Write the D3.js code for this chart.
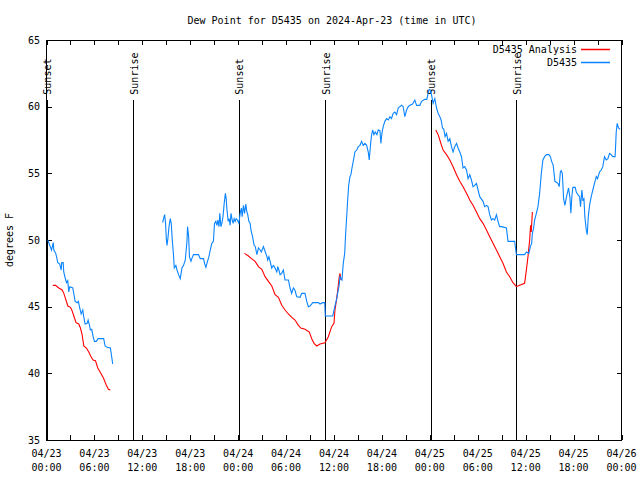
<!DOCTYPE html>
<html>
<head>
<meta charset="utf-8">
<script src="https://cdn.jsdelivr.net/npm/d3@7"></script>
<style>
  html, body { margin: 0; padding: 0; background: #fff; }
  text { font-family: "DejaVu Sans Mono", "Liberation Mono", monospace; font-size: 10px; fill: #000; }
</style>
</head>
<body>
<svg id="chart" width="640" height="480"></svg>
<script>
// ---------------- DATA (hours after 2024-04-23 00:00 UTC, dew point °F) ----------------
const titleText = "Dew Point for D5435 on 2024-Apr-23 (time in UTC)";
const yLabel = "degrees F";
const seriesNames = ["D5435 Analysis", "D5435"];

const yTicks = [35, 40, 45, 50, 55, 60, 65];
const xTickHours = [0, 6, 12, 18, 24, 30, 36, 42, 48, 54, 60, 66, 72];
const xTickDates = ["04/23","04/23","04/23","04/23","04/24","04/24","04/24","04/24","04/25","04/25","04/25","04/25","04/26"];
const xTickTimes = ["00:00","06:00","12:00","18:00","00:00","06:00","12:00","18:00","00:00","06:00","12:00","18:00","00:00"];

const sunEventNames = ["Sunset","Sunrise","Sunset","Sunrise","Sunset","Sunrise"];
const sunEventHours = [0.07, 10.94, 24.16, 34.94, 48.19, 58.91];

// Observed (blue), segment 1
const obs1Hours = [0.16,0.41,0.63,0.84,0.92,1.16,1.29,1.41,1.66,1.84,1.91,2.09,2.16,2.34,2.5,2.66,2.79,2.91,3.29,3.41,3.59,3.84,4.0,4.16,4.34,4.54,4.66,4.84,5.09,5.21,5.34,5.5,5.66,5.84,6.0,6.25,6.46,7.16,7.34,7.59,8.0,8.16,8.29];
const obs1Values = [50.0,49.6,49.25,49.8,49.25,49.0,48.65,48.3,48.2,47.75,48.3,48.3,47.6,47.15,46.8,46.95,46.1,46.5,46.4,46.0,45.4,45.3,45.4,44.9,44.45,44.75,44.25,43.7,43.75,44.0,43.7,43.25,43.3,42.75,42.4,42.4,42.6,42.6,42.05,41.95,41.9,41.25,40.7];

// Observed (blue), segment 2
const obs2Hours = [14.54,14.66,14.79,14.91,15.0,15.09,15.2,15.34,15.5,15.62,15.75,15.9,16.0,16.2,16.34,16.54,16.75,16.96,17.16,17.38,17.59,17.66,17.8,17.9,18.09,18.2,18.4,19.04,19.25,19.66,19.79,19.96,20.16,20.34,20.5,20.7,20.9,21.04,21.2,21.34,21.46,21.6,21.7,21.84,21.96,22.1,22.25,22.4,22.5,22.6,22.75,22.87,23.0,23.1,23.25,23.37,23.5,23.62,23.75,23.9,24.09,24.25,24.4,24.5,24.66,24.8,24.96,25.09,25.2,25.34,25.5,25.6,25.8,26.0,26.15,26.34,26.54,26.75,26.9,27.16,27.4,27.6,27.7,27.85,28.0,
  28.2,28.41,28.54,28.84,28.96,29.1,29.25,29.45,29.66,29.87,30.29,30.5,30.7,30.91,31.1,31.34,31.75,31.96,32.37,32.59,32.79,33.0,33.34,34.04,34.25,34.59,34.84,34.91,35.84,36.1,36.34,36.45,36.62,36.75,36.9,37.0,37.16,37.34,37.46,37.59,37.71,37.84,38.0,38.12,38.25,38.41,38.62,38.84,39.04,39.25,39.46,39.66,39.87,40.09,40.29,40.41,40.59,40.71,40.84,41.0,41.16,41.37,41.54,41.75,41.87,42.0,42.16,42.37,42.59,42.8,43.0,43.2,43.41,43.62,43.84,44.04,44.25,44.46,44.66,44.87,45.09,45.3,45.5,45.84,46.12,46.34,46.75,46.96,47.37,47.62,47.87,48.0,48.21,48.41,48.62,48.84,49.04,49.25,49.41,49.59,49.75,49.91,50.09,50.29,50.5,50.71,50.91,51.12,51.34,51.54,51.75,51.96,52.16,52.37,52.59,52.79,53.0,53.21,53.41,53.62,53.84,54.04,54.25,54.66,54.87,55.1,55.29,55.5,55.71,55.9,56.12,56.34,56.54,56.75,57.0,57.59,57.79,58.62,58.84,59.87,60.09,60.4,60.59,60.75,60.84,61.0,61.12,61.34,61.54,61.75,61.96,62.16,62.37,62.59,62.91,63.1,63.25,63.45,63.54,63.66,64.04,64.2,64.34,64.45,64.59,64.75,64.91,65.1,65.25,65.37,65.54,65.66,65.79,65.91,66.2,66.34,66.54,66.75,66.87,67.04,67.16,67.3,67.41,67.59,67.71,67.84,68.0,68.21,68.41,68.62,68.84,69.0,69.25,69.46,69.66,69.87,70.09,70.3,70.5,70.7,70.91,71.2,71.25,71.34,71.46,71.62,71.84];
const obs2Values = [51.3,51.6,51.9,51.25,50.1,49.6,50.1,51.0,51.6,51.25,50.0,48.9,47.9,48.1,47.75,47.4,47.1,47.9,48.1,48.5,49.9,51.0,50.25,48.75,48.4,48.6,48.9,48.9,48.6,48.6,48.25,47.95,48.4,48.75,49.25,49.75,49.9,51.25,51.4,51.1,51.5,51.0,52.0,51.0,51.25,51.75,52.75,53.5,53.1,52.25,51.4,51.6,51.1,52.0,51.5,51.25,51.6,51.4,51.6,51.5,51.25,52.0,52.4,51.75,52.6,52.0,52.7,52.1,51.9,51.4,51.25,50.75,50.25,49.6,49.5,48.9,49.4,49.25,49.1,49.5,49.1,48.75,48.5,48.75,48.4,
  47.9,48.1,48.0,47.6,48.0,47.75,47.4,47.5,47.75,47.0,47.0,46.4,46.0,46.4,46.25,45.75,45.7,46.0,46.0,45.4,45.0,45.05,45.3,45.3,45.2,45.3,45.3,44.3,44.3,45.0,45.6,46.0,46.5,47.25,47.1,47.0,48.25,49.0,50.5,51.75,53.0,54.1,54.75,54.9,55.4,55.9,56.6,56.75,57.0,57.1,57.4,57.1,57.25,57.1,56.6,56.0,57.25,57.9,58.25,57.9,58.1,57.9,58.25,58.2,57.25,58.0,58.5,58.9,59.1,59.0,59.25,59.1,59.5,59.6,59.4,59.9,60.0,60.1,60.0,59.25,59.75,60.0,60.1,60.2,60.5,60.1,60.1,60.4,60.55,60.55,61.25,61.3,60.9,60.25,60.6,59.9,59.5,59.25,59.0,58.4,58.3,57.75,58.0,57.4,57.6,57.0,56.6,57.0,57.25,56.9,56.6,56.25,55.4,55.5,55.25,54.6,54.9,54.5,54.0,54.1,54.25,53.75,53.25,52.9,52.5,52.6,52.5,51.9,51.5,51.6,51.5,51.9,51.4,51.0,51.0,50.9,49.9,49.9,48.9,48.9,49.1,49.0,49.5,49.75,50.5,50.9,51.5,52.0,52.5,53.5,55.0,56.0,56.25,56.4,56.4,56.25,55.9,55.6,55.1,54.4,54.25,54.0,55.1,55.2,55.0,53.1,52.6,53.2,53.6,53.9,53.2,52.0,53.3,53.95,53.95,53.6,53.4,53.25,52.5,53.75,53.0,53.1,51.75,50.75,50.4,51.75,52.6,53.25,53.75,54.25,54.75,54.6,55.1,55.25,55.5,56.25,56.0,56.1,56.5,56.4,56.25,56.25,56.9,58.1,58.75,58.4,58.3];

// Analysis (red), three segments
const ana1Hours = [0.79,1.13,1.54,1.96,2.17,2.38,2.67,3.0,3.2,3.42,3.7,4.04,4.25,4.46,4.67,5.0,5.29,5.58,5.83,6.13,6.42,6.8,7.13,7.5,7.75,8.0];
const ana1Values = [46.6,46.6,46.4,46.25,46.0,45.6,45.05,44.95,44.7,44.3,43.8,43.7,43.4,42.9,42.05,41.9,41.6,41.25,41.0,40.95,40.4,40.0,39.65,39.1,38.8,38.75];
const ana2Hours = [24.79,25.29,25.66,26.12,26.54,26.96,27.37,27.79,28.21,28.62,29.04,29.46,29.87,30.29,30.71,31.12,31.54,31.84,32.37,32.91,33.21,33.5,33.84,34.25,34.87,35.29,35.71,36.0,36.12,36.34,36.54,36.66,36.75,36.87];
const ana2Values = [49.0,48.8,48.6,48.4,48.0,47.8,47.25,46.9,46.55,45.9,45.7,45.1,44.75,44.45,44.2,44.0,43.6,43.4,43.3,43.1,42.6,42.25,42.05,42.2,42.3,42.75,43.5,43.75,44.75,45.6,46.6,47.25,47.5,47.0];
const ana3Hours = [48.75,49.04,49.25,49.46,49.66,50.09,50.5,50.91,51.34,51.75,52.16,52.59,53.0,53.41,53.84,54.25,54.66,55.09,55.5,55.91,56.34,56.75,57.16,57.59,58.0,58.41,58.84,59.25,59.87,60.09,60.29,60.5,60.62,60.7,60.84];
const ana3Values = [58.25,57.9,57.5,57.1,56.75,56.4,56.0,55.5,54.9,54.4,54.0,53.5,53.0,52.6,52.1,51.6,51.25,50.75,50.25,49.75,49.25,48.75,48.25,47.6,47.25,46.8,46.5,46.6,46.75,47.75,48.75,50.0,51.1,50.6,52.1];

// ---------------- DRAW ----------------
(function () {
const colors = { analysis: "#ff0000", obs: "#0a84ff" };
const svg = d3.select("#chart");
const plotLeft = 46.5, plotRight = 621.5, plotTop = 40, plotBottom = 440;
const start = Date.UTC(2024, 3, 23);
const toDate = h => new Date(start + h * 3600e3);

const x = d3.scaleUtc().domain([toDate(0), toDate(72)]).range([plotLeft, plotRight]);
const y = d3.scaleLinear().domain([35, 65]).range([plotBottom, plotTop]);

// title
svg.append("text").attr("x", 332).attr("y", 24).attr("text-anchor", "middle").text(titleText);

// y label
svg.append("text").attr("transform", `translate(13,240) rotate(-90)`)
  .attr("text-anchor", "middle").text(yLabel);

// axes (ticks inward, mirrored)
const xTicks3h = d3.range(0, 73, 3).map(toDate);
const gx = svg.append("g").attr("transform", `translate(0,${plotBottom})`)
  .call(d3.axisBottom(x).tickValues(xTicks3h).tickSize(-5).tickSizeOuter(0).tickFormat(""));
const gxt = svg.append("g").attr("transform", `translate(0,${plotTop})`)
  .call(d3.axisTop(x).tickValues(xTicks3h).tickSize(-5).tickSizeOuter(0).tickFormat(""));
const gy = svg.append("g").attr("transform", `translate(${plotLeft},0)`)
  .call(d3.axisLeft(y).tickValues(yTicks).tickSize(-5).tickSizeOuter(0).tickFormat(""));
const gyr = svg.append("g").attr("transform", `translate(${plotRight},0)`)
  .call(d3.axisRight(y).tickValues(yTicks).tickSize(-5).tickSizeOuter(0).tickFormat(""));
[gx, gxt, gy, gyr].forEach(g => {
  g.select(".domain").remove();
  g.selectAll("line").attr("stroke", "#000").attr("shape-rendering", "crispEdges");
});

// border
svg.append("rect").attr("x", plotLeft).attr("y", plotTop).attr("width", plotRight - plotLeft).attr("height", plotBottom - plotTop)
  .attr("fill", "none").attr("stroke", "#000").attr("shape-rendering", "crispEdges");

// y tick labels
svg.append("g").selectAll("text").data(yTicks).join("text")
  .attr("x", 40).attr("y", d => y(d)).attr("dy", "0.35em").attr("text-anchor", "end").text(d => d);

// x tick labels (two lines)
const xl = svg.append("g").selectAll("text").data(xTickHours).join("text")
  .attr("text-anchor", "middle");
xl.append("tspan").attr("x", d => x(toDate(d))).attr("y", 457).text((d, i) => xTickDates[i]);
xl.append("tspan").attr("x", d => x(toDate(d))).attr("y", 471).text((d, i) => xTickTimes[i]);

// sunrise / sunset lines
const sun = svg.append("g");
sun.selectAll("line").data(sunEventHours).join("line")
  .attr("x1", d => x(toDate(d))).attr("x2", d => x(toDate(d)))
  .attr("y1", y(60.5)).attr("y2", y(35))
  .attr("stroke", "#000").attr("shape-rendering", "crispEdges");
sun.selectAll("text").data(sunEventHours).join("text")
  .attr("transform", d => `translate(${x(toDate(d)) + 0.5},${y(60.9)}) rotate(-90)`)
  .attr("dy", "0.35em").text((d, i) => sunEventNames[i]);

// data lines
const line = d3.line().x(d => x(toDate(d[0]))).y(d => y(d[1]));
const zip = (a, b) => a.map((v, i) => [v, b[i]]);
const drawLine = (pts, color) => svg.append("path").datum(pts)
  .attr("d", line).attr("fill", "none").attr("stroke", color).attr("stroke-width", 1.1);

drawLine(zip(ana1Hours, ana1Values), colors.analysis);
drawLine(zip(ana2Hours, ana2Values), colors.analysis);
drawLine(zip(ana3Hours, ana3Values), colors.analysis);
drawLine(zip(obs1Hours, obs1Values), colors.obs);
drawLine(zip(obs2Hours, obs2Values), colors.obs);

// legend
const legend = svg.append("g").attr("class", "legend");
const legendItems = [
  { name: seriesNames[0], color: colors.analysis, ly: 49.5 },
  { name: seriesNames[1], color: colors.obs, ly: 62.5 }
];
legendItems.forEach(it => {
  legend.append("text").attr("x", 577).attr("y", it.ly).attr("dy", "0.35em")
    .attr("text-anchor", "end").text(it.name);
  legend.append("rect").attr("x", 581).attr("y", it.ly - 0.75).attr("width", 29).attr("height", 1.5)
    .style("fill", it.color);
});
})();
</script>
</body>
</html>
